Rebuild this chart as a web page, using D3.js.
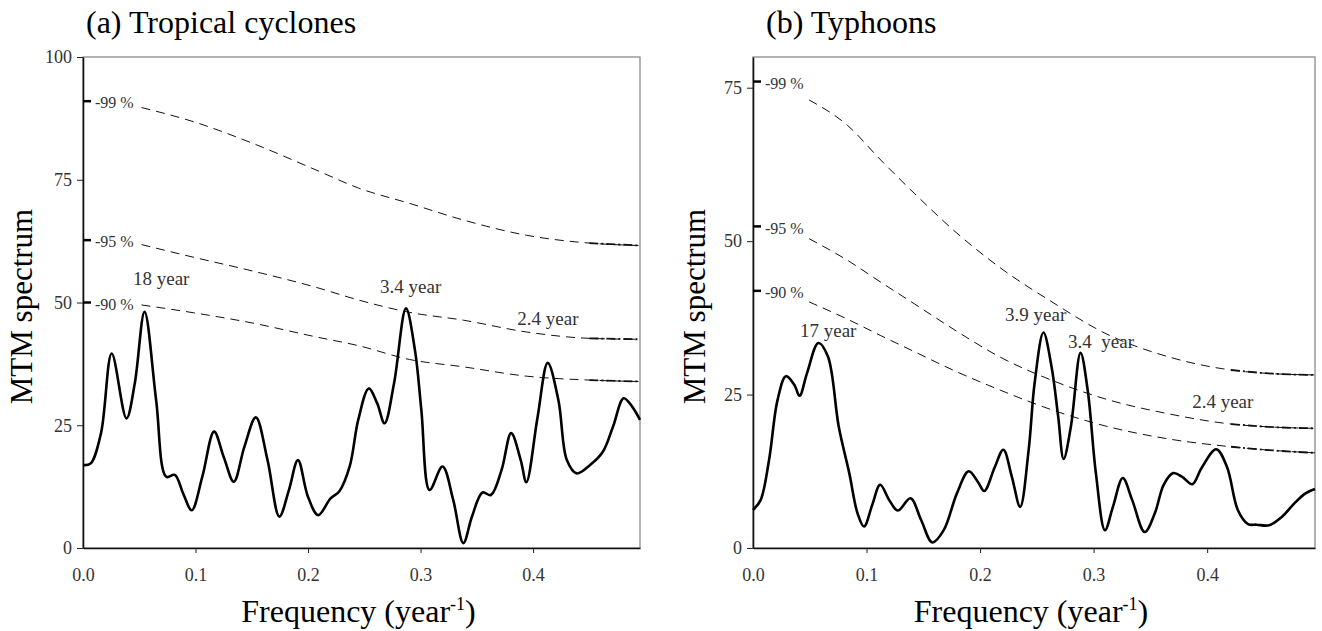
<!DOCTYPE html>
<html>
<head>
<meta charset="utf-8">
<script src="https://cdn.jsdelivr.net/npm/d3@7"></script>
<style>
  body { margin: 0; background: #fff; }
  svg text { font-family: "Liberation Serif", "Times New Roman", serif; }
</style>
</head>
<body>
<div id="container"></div>
<script>
// size
let w = 1322, h = 631;
let plotTop = 57, plotBottom = 548;

// ---- data (frequency in year^-1, MTM spectrum) ----
// (a) tropical cyclones
const freqA = [0, 0.0067, 0.016, 0.0255, 0.0386, 0.046, 0.0547, 0.065, 0.074, 0.0816, 0.089, 0.0966,
  0.106, 0.1165, 0.125, 0.134, 0.1434, 0.1536, 0.164, 0.1745, 0.183, 0.191, 0.2, 0.209, 0.22, 0.2277,
  0.237, 0.2446, 0.254, 0.2614, 0.268, 0.2764, 0.287, 0.295, 0.3007, 0.308, 0.3195, 0.329, 0.338,
  0.3457, 0.355, 0.3625, 0.372, 0.3805, 0.389, 0.394, 0.404, 0.413, 0.4225, 0.43, 0.4386, 0.4506,
  0.462, 0.471, 0.4805, 0.488, 0.495];
const specA = [16.9, 17.2, 23.4, 39.6, 26.4, 33.5, 48.1, 30.1, 14.5, 14.9, 11.1, 7.7,
  14.5, 23.7, 18.6, 13.5, 20.6, 26.6, 17.9, 6.4, 11.8, 17.9, 10.4, 6.7, 10.1, 11.5,
  16.6, 26.1, 32.5, 29.5, 25.4, 33.5, 48.8, 40.3, 28.1, 11.8, 16.6, 9.8, 1.0,
  6.4, 11.3, 10.8, 15.9, 23.4, 17.9, 13.4, 26.7, 37.7, 30.1, 17.9, 15.2, 16.9,
  19.6, 24.7, 30.5, 28.8, 26.1];
const sigFreqA = [0.052, 0.0985, 0.151, 0.207, 0.245, 0.29, 0.338, 0.394, 0.45, 0.495];
const sig99A = [89.7, 86.8, 82.4, 77.0, 73.3, 70.2, 66.8, 63.7, 62.1, 61.6];
const sig95A = [61.8, 59.2, 56.4, 53.1, 50.5, 48.0, 46.4, 44.0, 42.7, 42.5];
const sig90A = [49.5, 47.9, 45.8, 43.0, 41.2, 38.4, 36.9, 35.0, 34.2, 33.9];
const sigAxisA = [91, 62.7, 50];

// (b) typhoons
const freqB = [0, 0.0067, 0.0141, 0.0216, 0.029, 0.0364, 0.041, 0.0476, 0.0576, 0.066, 0.0755, 0.0848,
  0.092, 0.0978, 0.105, 0.112, 0.12, 0.1275, 0.1387, 0.148, 0.158, 0.168, 0.1796, 0.19, 0.198, 0.2037,
  0.213, 0.2205, 0.228, 0.2353, 0.2428, 0.248, 0.2558, 0.263, 0.2688, 0.2736, 0.28, 0.2885, 0.2948,
  0.302, 0.31, 0.317, 0.3257, 0.334, 0.345, 0.354, 0.3617, 0.37, 0.378, 0.387, 0.395, 0.408, 0.4175,
  0.427, 0.436, 0.4435, 0.4546, 0.466, 0.477, 0.4866, 0.495];
const specB = [6.2, 7.8, 14.3, 24.1, 28.0, 26.6, 24.8, 28.5, 33.4, 31.2, 19.8, 12.2,
  5.7, 3.5, 7.0, 10.3, 7.8, 6.1, 8.1, 4.6, 0.9, 2.9, 8.9, 12.5, 10.8, 9.3,
  13.2, 16.0, 11.6, 6.7, 16.0, 26.8, 35.1, 29.5, 21.4, 14.5, 19.8, 31.8, 25.7,
  12.2, 2.9, 6.7, 11.4, 7.8, 2.6, 5.7, 10.3, 12.2, 11.6, 10.4, 13.0, 16.1, 13.2,
  6.2, 3.9, 3.8, 3.7, 5.1, 7.3, 8.9, 9.6];
const sigFreqB = [0.0494, 0.083, 0.1126, 0.142, 0.1796, 0.2167, 0.265, 0.31, 0.365, 0.421, 0.458, 0.495];
const sig99B = [73.0, 68.9, 63.2, 57.8, 51.3, 45.8, 39.9, 35.0, 31.2, 29.0, 28.4, 28.2];
const sig95B = [50.4, 46.9, 43.3, 39.8, 35.3, 31.2, 27.2, 24.3, 21.9, 20.2, 19.7, 19.5];
const sig90B = [40.1, 37.3, 34.6, 32.0, 28.7, 25.8, 22.4, 19.9, 17.8, 16.5, 15.9, 15.5];
const sigAxisB = [76, 52.4, 41.9];

const sigNames = ["-99 %", "-95 %", "-90 %"];
const xTicks = [0, 0.1, 0.2, 0.3, 0.4];
const yTicksA = [0, 25, 50, 75, 100];
const yTicksB = [0, 25, 50, 75];

// peak annotations: [label, freq, value]
const peaksA = [["18 year", 0.0444, 53.6], ["3.4 year", 0.264, 51.9], ["2.4 year", 0.386, 45.4]];
const peaksB = [["17 year", 0.0414, 34.4], ["3.9 year", 0.222, 37.0], ["3.4  year", 0.2775, 32.6], ["2.4 year", 0.3868, 22.8]];

const panels = [
  { title: "(a) Tropical cyclones", x0: 83, x1: 640, ymax: 100, yTicks: yTicksA, freq: freqA, spec: specA,
    sigF: sigFreqA, sig: [sig99A, sig95A, sig90A], sigAxis: sigAxisA, peaks: peaksA, ylab: 32, titleX: 86 },
  { title: "(b) Typhoons", x0: 753, x1: 1315, ymax: 80, yTicks: yTicksB, freq: freqB, spec: specB,
    sigF: sigFreqB, sig: [sig99B, sig95B, sig90B], sigAxis: sigAxisB, peaks: peaksB, ylab: 705, titleX: 766 }
];

let svg = d3.select("#container").append("svg")
  .attr("width", w)
  .attr("height", h);

panels.forEach(p => {
  let x = d3.scaleLinear().domain([0, 0.495]).range([p.x0, p.x1]);
  let y = d3.scaleLinear().domain([0, p.ymax]).range([plotBottom, plotTop]);
  let g = svg.append("g");

  // frame
  g.append("rect")
    .attr("x", p.x0).attr("y", plotTop)
    .attr("width", p.x1 - p.x0).attr("height", plotBottom - plotTop)
    .attr("fill", "none").attr("stroke", "#8a8a8a").attr("stroke-width", 1.3);

  // axes
  let xAxis = g.append("g")
    .attr("transform", "translate(0," + plotBottom + ")")
    .call(d3.axisBottom(x).tickValues(xTicks).tickFormat(d3.format(".1f")).tickSize(5).tickSizeOuter(0).tickPadding(15));
  let yAxis = g.append("g")
    .attr("transform", "translate(" + p.x0 + ",0)")
    .call(d3.axisLeft(y).tickValues(p.yTicks).tickSize(6).tickSizeOuter(0).tickPadding(5));
  [xAxis, yAxis].forEach(a => {
    a.select(".domain").attr("stroke", "#111").attr("stroke-width", 1.6);
    a.selectAll(".tick line").attr("stroke", "#222").attr("stroke-width", 1);
    a.selectAll(".tick text")
      .attr("fill", "#333")
      .style("font-size", "18px")
      .style("font-family", "'Liberation Serif', serif");
  });
  xAxis.selectAll(".tick").filter(d => d === 0).select("line").remove();

  // significance levels
  let sigLine = d3.line()
    .x(d => x(d[0]))
    .y(d => y(d[1]))
    .curve(d3.curveMonotoneX);
  p.sig.forEach((vals, i) => {
    let pts = p.sigF.map((f, j) => [f, vals[j]]);
    g.append("path")
      .attr("d", sigLine(pts))
      .attr("fill", "none").attr("stroke", "#111")
      .attr("stroke-width", 1).attr("stroke-dasharray", "9,6");
    // heavier tail near the right edge
    let tail = pts.filter(d => d[0] >= 0.42);
    g.append("path")
      .attr("d", sigLine(tail))
      .attr("fill", "none").attr("stroke", "#111")
      .attr("stroke-width", 1.8).attr("stroke-dasharray", "9,3,2,3");
    // marker at axis + label
    g.append("line")
      .attr("x1", p.x0).attr("x2", p.x0 + 8)
      .attr("y1", y(p.sigAxis[i])).attr("y2", y(p.sigAxis[i]))
      .attr("stroke", "#000").attr("stroke-width", 2.5);
    g.append("text")
      .attr("x", p.x0 + 12)
      .attr("y", y(p.sigAxis[i]))
      .attr("dy", "0.45em")
      .attr("fill", "#333")
      .style("font-size", "16px")
      .text(sigNames[i]);
  });

  // spectrum
  let specLine = d3.line()
    .x(d => x(d[0]))
    .y(d => y(d[1]))
    .curve(d3.curveCatmullRom.alpha(0.5));
  g.append("path")
    .attr("d", specLine(p.freq.map((f, j) => [f, p.spec[j]])))
    .attr("fill", "none").attr("stroke", "#000")
    .attr("stroke-width", 2.6).attr("stroke-linejoin", "round");

  // peak labels
  g.selectAll(".peak").data(p.peaks).enter().append("text")
    .attr("class", "peak")
    .attr("x", d => x(d[1]))
    .attr("y", d => y(d[2]))
    .attr("fill", "#333")
    .style("font-size", "19px")
    .style("white-space", "pre")
    .text(d => d[0]);

  // title
  g.append("text")
    .attr("x", p.titleX).attr("y", 33)
    .attr("fill", "#000")
    .style("font-size", "32px")
    .text(p.title);

  // y label
  g.append("text")
    .attr("transform", "translate(" + p.ylab + "," + ((plotTop + plotBottom) / 2 + 4) + ") rotate(-90)")
    .attr("text-anchor", "middle")
    .attr("fill", "#000")
    .style("font-size", "31px")
    .text("MTM spectrum");

  // x label
  let xl = g.append("text")
    .attr("x", (p.x0 + p.x1) / 2 - 3).attr("y", 622)
    .attr("text-anchor", "middle")
    .attr("fill", "#000")
    .style("font-size", "32px");
  xl.append("tspan").text("Frequency (year");
  xl.append("tspan").attr("dy", -12).style("font-size", "18px").text("-1");
  xl.append("tspan").attr("dy", 12).text(")");
});
</script>
</body>
</html>
